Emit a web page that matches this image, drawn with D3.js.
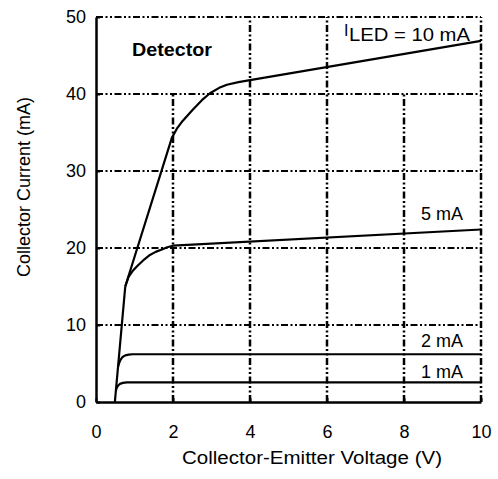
<!DOCTYPE html>
<html>
<head>
<meta charset="utf-8">
<script src="https://cdn.jsdelivr.net/npm/d3@7"></script>
<style>
  html, body { margin: 0; padding: 0; background: #fff; }
  svg text { font-family: "Liberation Sans", Arial, sans-serif; fill: #000; }
</style>
</head>
<body>
<svg id="chart" width="498" height="479"></svg>
<script>
// ---- data ----
const xTicks = [0, 2, 4, 6, 8, 10];
const yTicks = [0, 10, 20, 30, 40, 50];

const baseV = [0.49, 0.76];
const baseI = [0, 15];

const v10 = [0.76, 1.97, 2.1, 2.25, 2.5, 2.75, 2.96, 3.2, 3.4, 3.7, 4.0, 10];
const i10 = [15, 34.3, 35.5, 36.5, 37.9, 39.2, 40.1, 40.8, 41.2, 41.55, 41.8, 46.9];

const v5 = [0.76, 0.85, 0.95, 1.06, 1.25, 1.4, 1.55, 1.71, 1.85, 2.0, 10];
const i5 = [15, 16.3, 17.0, 17.6, 18.5, 19.1, 19.5, 19.8, 20.1, 20.3, 22.4];

const v2 = [0.575, 0.6, 0.64, 0.69, 0.76, 0.85, 0.95, 10];
const i2 = [4.6, 5.05, 5.5, 5.85, 6.05, 6.15, 6.2, 6.2];

const v1 = [0.517, 0.54, 0.57, 0.62, 0.7, 0.8, 10];
const i1 = [1.5, 1.85, 2.1, 2.35, 2.48, 2.55, 2.55];

const seriesLabels = ["10 mA", "5 mA", "2 mA", "1 mA"];

// ---- chart ----
const svg = d3.select("#chart");
const x = d3.scaleLinear().domain([0, 10]).range([96, 481]);
const y = d3.scaleLinear().domain([0, 50]).range([402, 17]);

const dash = "7,2.5,2,2.5,2,2.5";

// grid: horizontal lines
const gridH = [10, 20, 30, 40];
svg.append("g").selectAll("line").data(gridH).join("line")
  .attr("x1", x(0)).attr("x2", x(10))
  .attr("y1", d => y(d)).attr("y2", d => y(d))
  .attr("stroke", "#000").attr("stroke-width", 2).attr("stroke-dasharray", dash);
// top border
svg.append("line").attr("x1", x(0)).attr("x2", x(10)).attr("y1", y(50)).attr("y2", y(50))
  .attr("stroke", "#000").attr("stroke-width", 2).attr("stroke-dasharray", dash);

// vertical grid lines (2 and 8 stop at 40 because of labels)
const gridV = [[2, 40], [4, 50], [6, 50], [8, 40], [10, 50]];
svg.append("g").selectAll("line").data(gridV).join("line")
  .attr("x1", d => x(d[0])).attr("x2", d => x(d[0]))
  .attr("y1", y(0)).attr("y2", d => y(d[1]))
  .attr("stroke", "#000").attr("stroke-width", 2.5).attr("stroke-dasharray", dash);

// axes
const xAxis = d3.axisBottom(x).tickValues(xTicks).tickSizeInner(-4).tickSizeOuter(0).tickPadding(23);
const yAxis = d3.axisLeft(y).tickValues(yTicks).tickSizeInner(-4).tickSizeOuter(0).tickPadding(10);

const gx = svg.append("g").attr("transform", `translate(0,${y(0)})`).call(xAxis);
const gy = svg.append("g").attr("transform", `translate(${x(0)},0)`).call(yAxis);
[gx, gy].forEach(g => {
  g.select(".domain").attr("stroke", "#000").attr("stroke-width", 2.5);
  g.selectAll(".tick line").attr("stroke", "#000").attr("stroke-width", 2);
  g.selectAll(".tick text").attr("font-size", 18).attr("font-family", "Liberation Sans, Arial, sans-serif").attr("fill", "#000");
});

// curves
const line = d3.line().x(d => x(d[0])).y(d => y(d[1])).curve(d3.curveLinear);
const series = [
  [baseV, baseI], [v10, i10], [v5, i5], [v2, i2], [v1, i1]
];
svg.append("g").selectAll("path").data(series).join("path")
  .attr("d", s => line(d3.zip(s[0], s[1])))
  .attr("fill", "none").attr("stroke", "#000").attr("stroke-width", 2.2)
  .attr("stroke-linejoin", "round");

// titles
svg.append("text").attr("x", 182).attr("y", 464).attr("font-size", 18)
  .attr("textLength", 260).attr("lengthAdjust", "spacingAndGlyphs")
  .text("Collector-Emitter Voltage (V)");
svg.append("text").attr("transform", "translate(30,187) rotate(-90)")
  .attr("text-anchor", "middle").attr("font-size", 18)
  .text("Collector Current (mA)");

// Detector label
svg.append("text").attr("x", 132).attr("y", 56).attr("font-size", 18).attr("font-weight", "bold")
  .attr("textLength", 80).attr("lengthAdjust", "spacingAndGlyphs")
  .text("Detector");

// I_LED label
svg.append("text").attr("x", 344).attr("y", 36).attr("font-size", 16).text("I");
svg.append("text").attr("x", 349).attr("y", 41).attr("font-size", 18)
  .attr("textLength", 121).attr("lengthAdjust", "spacingAndGlyphs")
  .text("LED = " + seriesLabels[0]);

// other series labels
const lab = [[seriesLabels[1], 220], [seriesLabels[2], 347], [seriesLabels[3], 378]];
svg.append("g").selectAll("text").data(lab).join("text")
  .attr("x", 463).attr("y", d => d[1]).attr("text-anchor", "end").attr("font-size", 18)
  .text(d => d[0]);
</script>
</body>
</html>
